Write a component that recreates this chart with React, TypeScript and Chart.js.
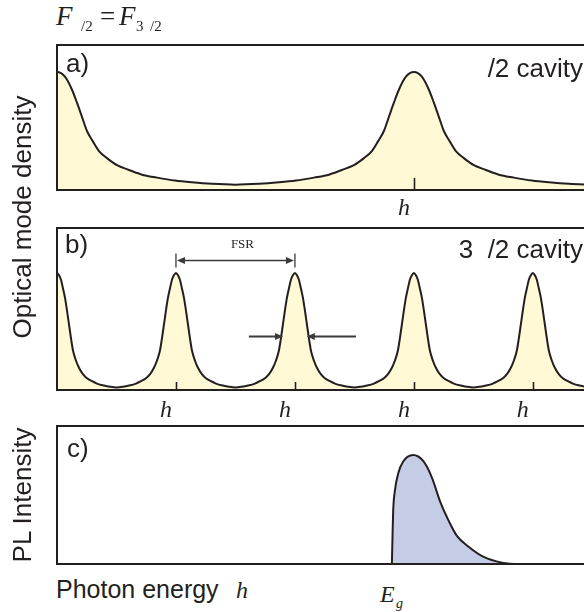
import React, { useEffect, useRef } from "react";
import { Chart, registerables } from "chart.js";

Chart.register(...registerables);

// ---------------- data ----------------
// photon energy axis: arbitrary units, 1 unit = free spectral range of the 3λ/2 cavity
const X_MAX = 4.43;

// a) λ/2 cavity: mode energies and one mode's half-profile (offset from mode, relative density)
const modesA = [0, 3];
const profileOffsetA = [0, 0.067, 0.126, 0.168, 0.21, 0.252, 0.303, 0.353, 0.42, 0.504, 0.605, 0.714, 0.84, 0.992, 1.134, 1.303, 1.5];
const profileValueA = [1.0, 0.96, 0.85, 0.74, 0.62, 0.5, 0.41, 0.33, 0.27, 0.21, 0.17, 0.13, 0.105, 0.08, 0.065, 0.052, 0.045];

// b) 3λ/2 cavity
const modesB = [0, 1, 2, 3, 4];
const profileOffsetB = [0, 0.017, 0.034, 0.05, 0.067, 0.084, 0.101, 0.118, 0.134, 0.16, 0.185, 0.218, 0.252, 0.294, 0.336, 0.395, 0.445, 0.5];
const profileValueB = [1.0, 0.98, 0.94, 0.87, 0.79, 0.68, 0.56, 0.44, 0.34, 0.25, 0.19, 0.135, 0.1, 0.075, 0.055, 0.038, 0.028, 0.022];

// c) PL spectrum
const plEnergy = [2.815, 2.821, 2.826, 2.84, 2.868, 2.91, 2.994, 3.078, 3.149, 3.225, 3.3, 3.36, 3.457, 3.582, 3.74, 3.89, 4.43];
const plIntensity = [0, 0.28, 0.49, 0.67, 0.83, 0.94, 1.0, 0.945, 0.8, 0.56, 0.38, 0.26, 0.16, 0.067, 0.012, 0, 0];

// tick marks (mode energies that carry an "hν" label)
const tickModesA = [3];
const tickModesB = [1, 2, 3, 4];
const tickLabel = "h";

// annotation levels (relative density) in panel b
const FSR_LEVEL = 1.11;
const FWHM_LEVEL = 0.46;
const fwhmTips = [-0.1, 0.1];
const fwhmTails = [-0.387, 0.513];

// ---------------- styles ----------------
const INK = "#231f20";
const ARROW = "#3a3a3a";
const YELLOW = "rgb(255, 249, 214)";
const BLUE = "rgb(197, 204, 229)";
const SANS = '"Liberation Sans", Arial, sans-serif';
const SERIF = '"Liberation Serif", "Times New Roman", serif';

function modeSeries(modes: number[], offs: number[], vals: number[]) {
  const pts: { x: number; y: number }[] = [];
  modes.forEach((m) => {
    for (let i = offs.length - 1; i > 0; i--) pts.push({ x: m - offs[i], y: vals[i] });
    for (let i = 0; i < offs.length; i++) pts.push({ x: m + offs[i], y: vals[i] });
  });
  pts.sort((a, b) => a.x - b.x);
  const out: { x: number; y: number }[] = [];
  for (const p of pts) {
    if (out.length && Math.abs(out[out.length - 1].x - p.x) < 1e-9) continue;
    out.push(p);
  }
  return out;
}

function arrowHead(ctx: CanvasRenderingContext2D, tipX: number, y: number, dir: number) {
  const L = 8, W = 3.5;
  ctx.beginPath();
  ctx.moveTo(tipX, y);
  ctx.lineTo(tipX - dir * L, y - W);
  ctx.lineTo(tipX - dir * L, y + W);
  ctx.closePath();
  ctx.fill();
}

function framePlugin(ticks: number[], tickLen: number, labelDy: number, extra?: (chart: any) => void) {
  return {
    id: "frame",
    afterDatasetsDraw(chart: any) {
      const { ctx, chartArea } = chart;
      const { left, top, right, bottom } = chartArea;
      const xs = chart.scales.x;
      ctx.save();
      ctx.strokeStyle = INK;
      ctx.lineWidth = 2;
      ctx.lineJoin = "miter";
      ctx.beginPath();
      ctx.moveTo(right + 4, top);
      ctx.lineTo(left, top);
      ctx.lineTo(left, bottom);
      ctx.lineTo(right + 4, bottom);
      ctx.stroke();
      ctx.lineWidth = 1.6;
      ctx.beginPath();
      ticks.forEach((t) => {
        const px = Math.round(xs.getPixelForValue(t)) + 0.5;
        ctx.moveTo(px, bottom);
        ctx.lineTo(px, bottom - tickLen);
      });
      ctx.stroke();
      ctx.fillStyle = INK;
      ctx.font = 'italic 24px "Liberation Serif"';
      ctx.textAlign = "center";
      ctx.textBaseline = "alphabetic";
      ticks.forEach((t) => ctx.fillText(tickLabel, xs.getPixelForValue(t) - 10, bottom + labelDy));
      if (extra) extra(chart);
      ctx.restore();
    },
  };
}

function panelBAnnotations(chart: any) {
  const { ctx } = chart;
  const xs = chart.scales.x;
  const ys = chart.scales.y;
  ctx.strokeStyle = ARROW;
  ctx.fillStyle = ARROW;
  // FSR
  const p1 = xs.getPixelForValue(modesB[1]);
  const p2 = xs.getPixelForValue(modesB[2]);
  const py = Math.round(ys.getPixelForValue(FSR_LEVEL)) + 0.5;
  ctx.lineWidth = 1.3;
  ctx.beginPath();
  ctx.moveTo(p1, py - 7);
  ctx.lineTo(p1, py + 7);
  ctx.moveTo(p2, py - 7);
  ctx.lineTo(p2, py + 7);
  ctx.stroke();
  ctx.lineWidth = 1.6;
  ctx.beginPath();
  ctx.moveTo(p1 + 4, py);
  ctx.lineTo(p2 - 4, py);
  ctx.stroke();
  arrowHead(ctx, p1 + 1, py, -1);
  arrowHead(ctx, p2 - 1, py, 1);
  ctx.fillStyle = INK;
  ctx.font = '13px "Liberation Serif"';
  ctx.textAlign = "center";
  ctx.fillText("FSR", (p1 + p2) / 2 + 7, py - 13);
  // linewidth arrows
  ctx.fillStyle = ARROW;
  const c = modesB[2];
  const fy = Math.round(ys.getPixelForValue(FWHM_LEVEL)) + 0.5;
  [0, 1].forEach((i) => {
    const tip = xs.getPixelForValue(c + fwhmTips[i]);
    const tail = xs.getPixelForValue(c + fwhmTails[i]);
    const dir = tip > tail ? 1 : -1;
    ctx.lineWidth = 2;
    ctx.beginPath();
    ctx.moveTo(tail, fy);
    ctx.lineTo(tip - dir * 5, fy);
    ctx.stroke();
    arrowHead(ctx, tip, fy, dir);
  });
}

function buildConfig(data: { x: number; y: number }[], fillColor: string, yMax: number, pad: any, plugin: any): any {
  return {
    type: "line",
    data: {
      datasets: [
        {
          data,
          borderColor: INK,
          borderWidth: 2,
          backgroundColor: fillColor,
          fill: "origin",
          cubicInterpolationMode: "monotone",
          pointRadius: 0,
        },
      ],
    },
    options: {
      animation: false,
      responsive: false,
      maintainAspectRatio: false,
      events: [],
      layout: { padding: pad },
      plugins: { legend: { display: false }, tooltip: { enabled: false }, title: { display: false } },
      scales: {
        x: { type: "linear", min: 0, max: X_MAX, display: false },
        y: { type: "linear", min: 0, max: yMax, display: false },
      },
    },
    plugins: [plugin],
  };
}

function Txt(props: { x: number; base: number; size: number; family: string; italic?: boolean; right?: boolean; children: any }) {
  const k = props.family === SANS ? 0.8465 : 0.8375;
  const style: any = {
    position: "absolute",
    top: props.base - k * props.size,
    fontSize: props.size,
    lineHeight: `${props.size}px`,
    fontFamily: props.family,
    fontStyle: props.italic ? "italic" : "normal",
    whiteSpace: "pre",
    color: INK,
  };
  if (props.right) style.right = 584 - props.x;
  else style.left = props.x;
  return <div style={style}>{props.children}</div>;
}

function VTitle(props: { cx: number; cy: number; size: number; w: number; children: any }) {
  return (
    <div
      style={{
        position: "absolute",
        left: props.cx - props.w / 2,
        top: props.cy - props.size / 2,
        width: props.w,
        height: props.size,
        lineHeight: `${props.size}px`,
        textAlign: "center",
        fontSize: props.size,
        fontFamily: SANS,
        color: INK,
        whiteSpace: "pre",
        transform: "rotate(-90deg)",
      }}
    >
      {props.children}
    </div>
  );
}

export default function App() {
  const refA = useRef<HTMLCanvasElement>(null);
  const refB = useRef<HTMLCanvasElement>(null);
  const refC = useRef<HTMLCanvasElement>(null);

  useEffect(() => {
    const seriesA = modeSeries(modesA, profileOffsetA, profileValueA);
    const seriesB = modeSeries(modesB, profileOffsetB, profileValueB);
    const seriesC = plEnergy.map((x, i) => ({ x, y: plIntensity[i] }));
    const charts: Chart[] = [];
    charts.push(
      new Chart(
        refA.current!,
        buildConfig(seriesA, YELLOW, 1.229, { left: 57, right: 0, top: 9, bottom: 34 }, framePlugin(tickModesA, 12, 25))
      )
    );
    charts.push(
      new Chart(
        refB.current!,
        buildConfig(seriesB, YELLOW, 1.385, { left: 57, right: 0, top: 4, bottom: 30 }, framePlugin(tickModesB, 8, 27, panelBAnnotations))
      )
    );
    charts.push(
      new Chart(
        refC.current!,
        buildConfig(seriesC, BLUE, 1.266, { left: 57, right: 0, top: 6, bottom: 6 }, framePlugin([], 0, 0))
      )
    );
    return () => charts.forEach((c) => c.destroy());
  }, []);

  const cv = (top: number): any => ({ position: "absolute", left: 0, top, display: "block" });

  return (
    <div style={{ position: "absolute", left: 0, top: 0, width: 584, height: 612, overflow: "hidden", background: "#fff" }}>
      <canvas ref={refA} width={584} height={188} style={cv(36)} />
      <canvas ref={refB} width={584} height={196} style={cv(224)} />
      <canvas ref={refC} width={584} height={150} style={cv(420)} />

      <Txt x={56} base={26} size={27} family={SERIF} italic>F</Txt>
      <Txt x={81} base={32} size={15} family={SERIF}>/2</Txt>
      <Txt x={100} base={26} size={27} family={SERIF}>=</Txt>
      <Txt x={119} base={26} size={27} family={SERIF} italic>F</Txt>
      <Txt x={136} base={32} size={15} family={SERIF}>3</Txt>
      <Txt x={150} base={32} size={15} family={SERIF}>/2</Txt>

      <Txt x={66} base={72} size={26} family={SANS}>a)</Txt>
      <Txt x={583} base={77} size={26} family={SANS} right>/2 cavity</Txt>
      <Txt x={65} base={253} size={26} family={SANS}>b)</Txt>
      <Txt x={583} base={258} size={26} family={SANS} right>{"3  /2 cavity"}</Txt>
      <Txt x={67} base={457} size={26} family={SANS}>c)</Txt>

      <VTitle cx={22} cy={217} size={26} w={300}>Optical mode density</VTitle>
      <VTitle cx={22} cy={495} size={26} w={200}>PL Intensity</VTitle>

      <Txt x={56} base={598} size={25} family={SANS}>Photon energy</Txt>
      <Txt x={236} base={598} size={24} family={SERIF} italic>h</Txt>
      <Txt x={380} base={602} size={24} family={SERIF} italic>E</Txt>
      <Txt x={396} base={609} size={14} family={SERIF} italic>g</Txt>
    </div>
  );
}
